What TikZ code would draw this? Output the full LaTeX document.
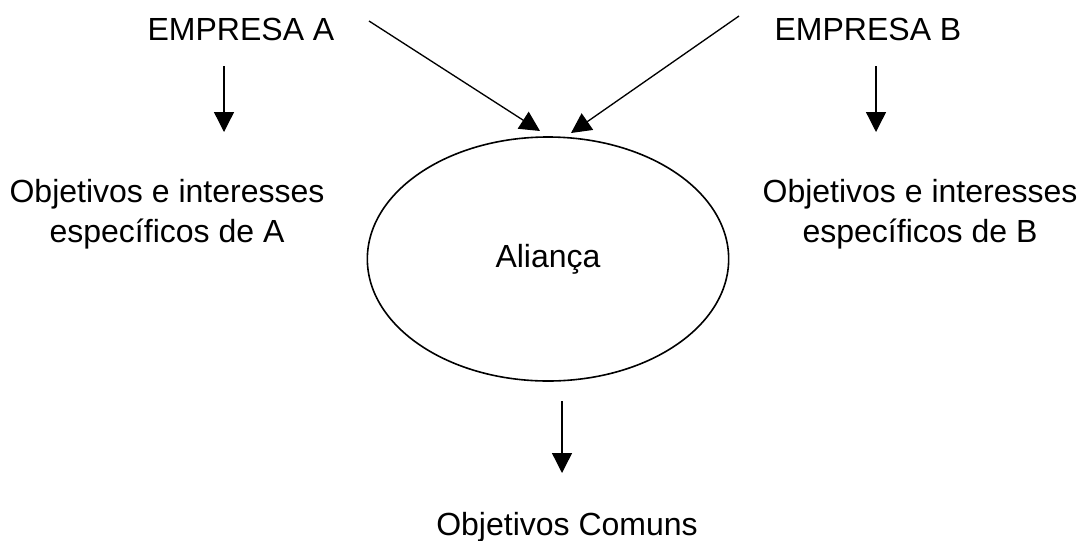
\documentclass[tikz,border=0pt]{standalone}
\usepackage{fontspec}
\setmainfont{Liberation Sans}
\usetikzlibrary{arrows.meta,positioning,shapes.geometric}

\begin{document}
\begin{tikzpicture}[x=0.75pt, y=-0.75pt, every node/.style={font=\fontsize{24}{29.3}\selectfont}, >={Triangle[length=15pt,width=15pt]}]
\tikzstyle{lbl}=[inner sep=0pt, align=center, anchor=base]
\tikzstyle{seta}=[->, line width=1pt]
\useasboundingbox (0,0) rectangle (1087,540);
% companies and their own goals
\node[lbl] (empA) at (241,40) {EMPRESA A};
\node[lbl] (empB) at (868,40) {EMPRESA B};
\node[lbl] (objA) at (167,242) {Objetivos e interesses\\espec\'ificos de A};
\node[lbl] (objB) at (920,242) {Objetivos e interesses\\espec\'ificos de B};
% the alliance
\node[ellipse, draw, line width=1.2pt, minimum width=271pt, minimum height=183pt, inner sep=0pt] (ali) at (548,259) {Aliança};
\node[lbl] (com) at (567,535) {Objetivos Comuns};
% arrow ends
\coordinate (aTop) at (224,66); \coordinate (aBot) at (224,132);
\coordinate (bTop) at (876,66); \coordinate (bBot) at (876,132);
\coordinate (aIn) at (369,21); \coordinate (aOut) at (540,131);
\coordinate (bIn) at (739,16); \coordinate (bOut) at (571,133);
\coordinate (cTop) at (562,401); \coordinate (cBot) at (562,473);
\draw[seta] (aTop) -- (aBot);
\draw[seta] (bTop) -- (bBot);
\draw[seta] (aIn) -- (aOut);
\draw[seta] (bIn) -- (bOut);
\draw[seta] (cTop) -- (cBot);
\end{tikzpicture}
\end{document}
